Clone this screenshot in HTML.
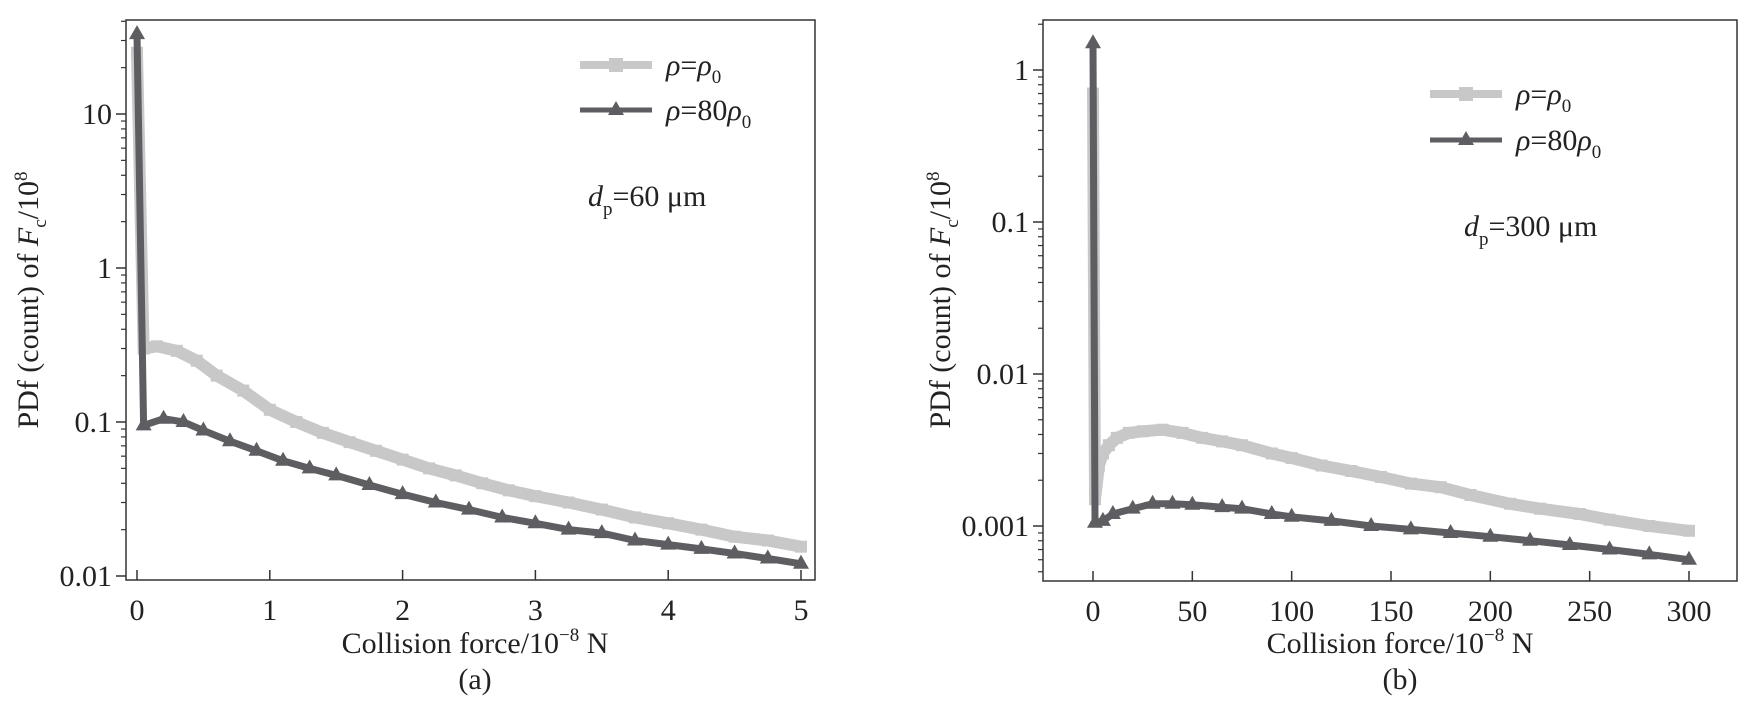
<!DOCTYPE html>
<html><head><meta charset="utf-8"><style>
html,body{margin:0;padding:0;background:#fff;}
svg{display:block;font-family:"Liberation Serif",serif;}
</style></head><body>
<svg id="fig" width="1748" height="705" viewBox="0 0 1748 705" xmlns="http://www.w3.org/2000/svg"></svg>
<script>
// Panel (a) data
const aX1 = [0, 0.05, 0.15, 0.3, 0.45, 0.6, 0.8, 1.0, 1.2, 1.4, 1.6, 1.8, 2.0, 2.2, 2.4, 2.6, 2.8, 3.0, 3.25, 3.5, 3.75, 4.0, 4.25, 4.5, 4.75, 5.0];
const aY1 = [25, 0.3, 0.31, 0.29, 0.25, 0.2, 0.16, 0.12, 0.1, 0.085, 0.074, 0.065, 0.057, 0.05, 0.045, 0.04, 0.036, 0.033, 0.03, 0.027, 0.024, 0.022, 0.02, 0.018, 0.017, 0.0155];
const aX2 = [0, 0.05, 0.2, 0.35, 0.5, 0.7, 0.9, 1.1, 1.3, 1.5, 1.75, 2.0, 2.25, 2.5, 2.75, 3.0, 3.25, 3.5, 3.75, 4.0, 4.25, 4.5, 4.75, 5.0];
const aY2 = [33, 0.095, 0.105, 0.1, 0.088, 0.075, 0.065, 0.056, 0.05, 0.045, 0.039, 0.034, 0.03, 0.027, 0.024, 0.022, 0.02, 0.019, 0.017, 0.016, 0.015, 0.014, 0.013, 0.012];
const aXTicks = [0, 1, 2, 3, 4, 5];
const aYTicks = ["0.01", "0.1", "1", "10"];
// Panel (b) data
const bX1 = [0, 1, 3, 5, 8, 12, 18, 25, 35, 45, 55, 65, 75, 90, 100, 115, 130, 145, 160, 175, 190, 210, 225, 245, 260, 280, 300];
const bY1 = [0.7, 0.0015, 0.0025, 0.003, 0.0034, 0.0038, 0.0041, 0.0042, 0.0043, 0.0041, 0.0038, 0.0036, 0.0034, 0.003, 0.0028, 0.0025, 0.0023, 0.0021, 0.0019, 0.0018, 0.0016, 0.0014, 0.0013, 0.0012, 0.0011, 0.001, 0.00093];
const bX2 = [0, 1, 5, 10, 20, 30, 40, 50, 65, 75, 90, 100, 120, 140, 160, 180, 200, 220, 240, 260, 280, 300];
const bY2 = [1.5, 0.00105, 0.00108, 0.0012, 0.0013, 0.0014, 0.0014, 0.00138, 0.00133, 0.0013, 0.0012, 0.00115, 0.00108, 0.001, 0.00095, 0.0009, 0.00085, 0.0008, 0.00075, 0.0007, 0.00065, 0.0006];
const bXTicks = [0, 50, 100, 150, 200, 250, 300];
const bYTicks = ["0.001", "0.01", "0.1", "1"];

const NS = "http://www.w3.org/2000/svg";
const svg = document.getElementById("fig");
function mk(tag, attrs, parent) {
  const e = document.createElementNS(NS, tag);
  for (const k in attrs) e.setAttribute(k, attrs[k]);
  (parent || svg).appendChild(e);
  return e;
}
const LIGHT = "#c8c8c8", DARK = "#5e5e62";
const FS = 30, SFS = 19;

function panel(cfg) {
  const g = mk("g", {});
  
  
  const L = cfg.left, R = cfg.right, T = cfg.top, B = cfg.bottom;
  const sx = v => cfg.x0px + (v - cfg.xmin) / (cfg.xmax - cfg.xmin) * (cfg.x1px - cfg.x0px);
  const sy = v => cfg.yref + (Math.log10(cfg.yrefVal) - Math.log10(v)) * cfg.decade;
  const frame = mk("rect", {x: L, y: T, width: R - L, height: B - T, fill: "none", stroke: "#333", "stroke-width": 1.5}, g);
  
  
  cfg.xticks.forEach(t => {
    const x = sx(t);
    mk("line", {x1: x, x2: x, y1: B, y2: B - 10, stroke: "#333", "stroke-width": 1.5}, g);
    const tx = mk("text", {x: x, y: B + 40, "text-anchor": "middle", "font-size": FS, fill: "#222", "textLength": String(t).length * 15, "lengthAdjust": "spacingAndGlyphs"}, g);
    tx.textContent = t;
    
    
  });
  cfg.yticks.forEach(s => {
    const v = parseFloat(s);
    const y = sy(v);
    mk("line", {x1: L, x2: L - 10, y1: y, y2: y, stroke: "#333", "stroke-width": 1.5}, g);
    const tx = mk("text", {x: L - 14, y: y + 10, "text-anchor": "end", "font-size": FS, fill: "#222"}, g);
    tx.textContent = s;
    
    
    for (let m = 2; m <= 9; m++) {
      const my = sy(v * m);
      if (my > T && my < B) mk("line", {x1: L, x2: L - 5, y1: my, y2: my, stroke: "#333", "stroke-width": 1.2}, g);
    }
  });
  const first = parseFloat(cfg.yticks[0]);
  for (let m = 2; m <= 9; m++) {
    const my = sy(first * m / 10);
    if (my > T && my < B) mk("line", {x1: L, x2: L - 5, y1: my, y2: my, stroke: "#333", "stroke-width": 1.2}, g);
  }
  function series(xs, ys, color, w, marker, name) {
    const pts = xs.map((x, i) => sx(x).toFixed(1) + "," + sy(ys[i]).toFixed(1)).join(" ");
    const pl = mk("polyline", {points: pts, fill: "none", stroke: color, "stroke-width": w, "stroke-linejoin": "round"}, g);
    
    
    xs.forEach((x, i) => {
      const px = sx(x), py = sy(ys[i]);
      let m;
      if (marker === "sq") m = mk("rect", {x: px - 6, y: py - 6, width: 12, height: 12, fill: color}, g);
      else m = mk("polygon", {points: `${px},${py - 9} ${px - 8},${py + 5} ${px + 8},${py + 5}`, fill: color}, g);
      
      
    });
  }
  series(cfg.x1, cfg.y1, LIGHT, 12, "sq", "rho0-series");
  series(cfg.x2, cfg.y2, DARK, 7, "tri", "rho80-series");
  const lg = mk("g", {}, g);
  
  
  [[LIGHT, "sq", 0, ""], [DARK, "tri", 1, "80"]].forEach(([c, mkr, i, num]) => {
    const y = cfg.legY + i * cfg.legDy;
    mk("line", {x1: cfg.legX, x2: cfg.legX + 72, y1: y, y2: y, stroke: c, "stroke-width": mkr === "sq" ? 8 : 5}, lg);
    const cx = cfg.legX + 36;
    if (mkr === "sq") mk("rect", {x: cx - 7, y: y - 7, width: 14, height: 14, fill: c}, lg);
    else mk("polygon", {points: `${cx},${y - 9} ${cx - 8},${y + 5} ${cx + 8},${y + 5}`, fill: c}, lg);
    const t = mk("text", {x: cfg.legX + 86, y: y + 10, "font-size": FS, fill: "#222"}, lg);
    t.innerHTML = `<tspan font-style="italic">ρ</tspan>=${num}<tspan font-style="italic">ρ</tspan><tspan font-size="${SFS}" dy="8">0</tspan>`;
    
    
  });
  const dp = mk("text", {x: cfg.dpX, y: cfg.dpY, "font-size": FS, fill: "#222"}, g);
  dp.innerHTML = `<tspan font-style="italic">d</tspan><tspan font-size="${SFS}" dy="9">p</tspan><tspan dy="-9">=${cfg.dp} μm</tspan>`;
  
  
  const xl = mk("text", {x: cfg.xlabX, y: 653, "text-anchor": "middle", "font-size": FS, fill: "#222"}, g);
  xl.innerHTML = `Collision force/10<tspan font-size="${SFS}" dy="-12">−8</tspan><tspan dy="12"> N</tspan>`;
  
  
  const cap = mk("text", {x: cfg.xlabX, y: 689, "text-anchor": "middle", "font-size": FS, fill: "#222"}, g);
  cap.textContent = cfg.caption;
  
  
  const yl = mk("text", {x: 0, y: 0, "text-anchor": "middle", "font-size": FS, fill: "#222", transform: `translate(${cfg.ylabX},${cfg.ylabY}) rotate(-90)`}, g);
  yl.innerHTML = `PDf (count) of <tspan font-style="italic">F</tspan><tspan font-size="${SFS}" dy="8">c</tspan><tspan dy="-8">/10</tspan><tspan font-size="${SFS}" dy="-11">8</tspan>`;
  
  
}

panel({name: "panel-a", left: 126, right: 815, top: 20, bottom: 580,
  xmin: 0, xmax: 5, x0px: 137, x1px: 801, yref: 576, yrefVal: 0.01, decade: 154,
  xticks: aXTicks, yticks: aYTicks, x1: aX1, y1: aY1, x2: aX2, y2: aY2,
  legX: 580, legY: 65, legDy: 45, dpX: 588, dpY: 206, dp: "60",
  xlabX: 475, caption: "(a)", ylabX: 38, ylabY: 300});
panel({name: "panel-b", left: 1043, right: 1737, top: 20, bottom: 581,
  xmin: 0, xmax: 300, x0px: 1093, x1px: 1689, yref: 526, yrefVal: 0.001, decade: 152,
  xticks: bXTicks, yticks: bYTicks, x1: bX1, y1: bY1, x2: bX2, y2: bY2,
  legX: 1430, legY: 94, legDy: 46, dpX: 1464, dpY: 236, dp: "300",
  xlabX: 1400, caption: "(b)", ylabX: 950, ylabY: 300});
</script>
</body></html>
